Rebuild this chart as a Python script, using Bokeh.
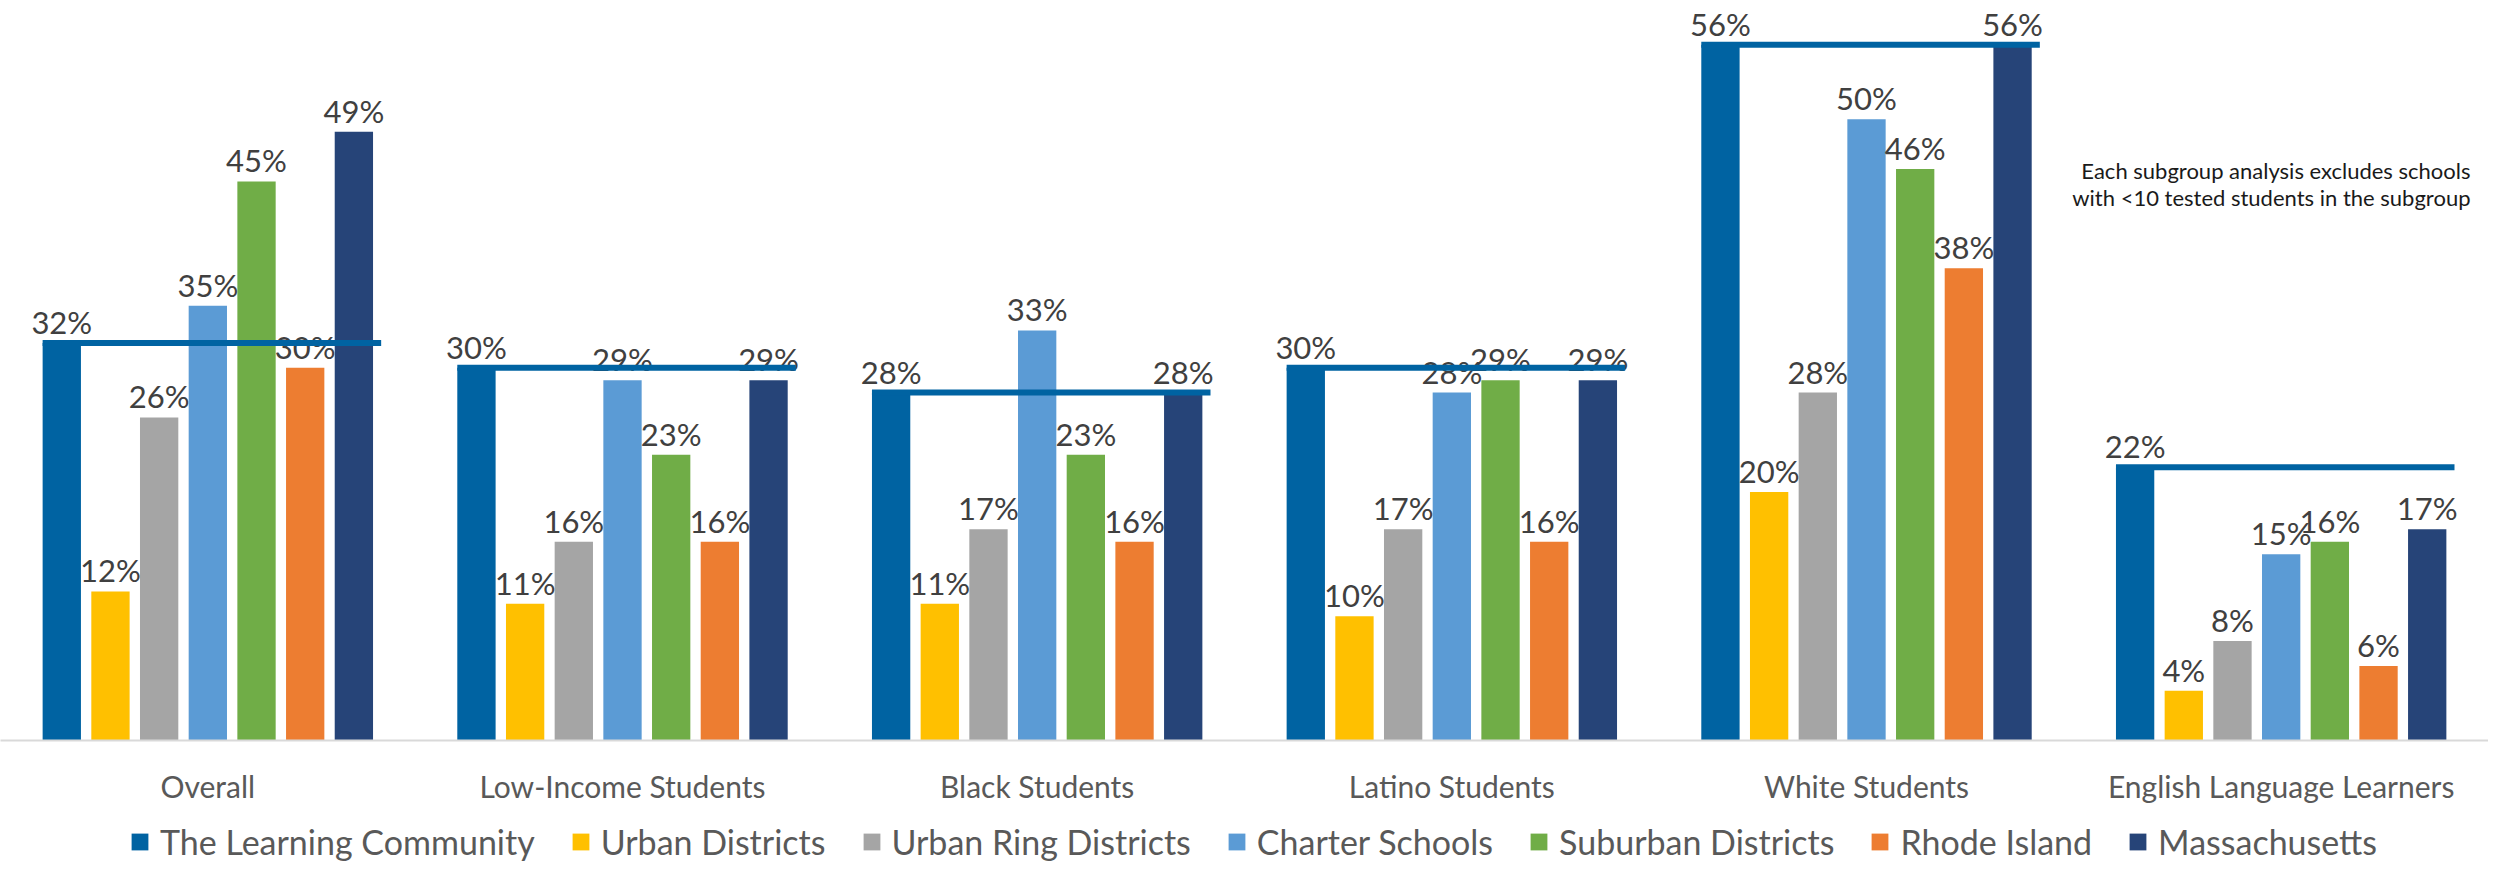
from bokeh.plotting import figure
from bokeh.layouts import column
from bokeh.models import FactorRange, Range1d, Legend, LegendItem, Label, ColumnDataSource
from bokeh.transform import dodge
from bokeh.core.properties import value
from bokeh.embed import file_html
from bokeh.resources import INLINE

groups = ["Overall", "Low-Income Students", "Black Students", "Latino Students",
          "White Students", "English Language Learners"]
series_names = ["The Learning Community", "Urban Districts", "Urban Ring Districts",
                "Charter Schools", "Suburban Districts", "Rhode Island", "Massachusetts"]
learning_community = [32, 30, 28, 30, 56, 22]
urban_districts = [12, 11, 11, 10, 20, 4]
urban_ring_districts = [26, 16, 17, 17, 28, 8]
charter_schools = [35, 29, 33, 28, 50, 15]
suburban_districts = [45, 23, 23, 29, 46, 16]
rhode_island = [30, 16, 16, 16, 38, 6]
massachusetts = [49, 29, 28, 29, 56, 17]
note_lines = ["Each subgroup analysis excludes schools",
              "with <10 tested students in the subgroup"]

series_values = [learning_community, urban_districts, urban_ring_districts,
                 charter_schools, suburban_districts, rhode_island, massachusetts]
colors = ["#0063A2", "#FFC000", "#A5A5A5", "#5B9BD5", "#70AD47", "#ED7D31", "#264478"]

FONT = "Lato"
pitch = 0.1174
bar_w = 0.0924

p = figure(width=2488, height=806, x_range=FactorRange(*groups), y_range=Range1d(0, 59.56),
           output_backend="svg", toolbar_location=None, y_axis_location=None,
           min_border_left=0, min_border_right=0, min_border_top=0, min_border_bottom=61)
p.outline_line_color = None
p.xgrid.grid_line_color = None
p.ygrid.grid_line_color = None
p.background_fill_color = "white"
p.border_fill_color = "white"

xa = p.xaxis[0]
xa.axis_line_color = "#D9D9D9"
xa.axis_line_width = 2
xa.major_tick_line_color = None
xa.minor_tick_line_color = None
xa.major_tick_out = 0
xa.major_tick_in = 0
xa.major_label_text_font = FONT
xa.major_label_text_font_size = "30px"
xa.major_label_text_color = "#595959"
xa.major_label_standoff = 27

label_sources = []
for i, (name, vals, col) in enumerate(zip(series_names, series_values, colors)):
    src = ColumnDataSource(dict(group=groups, val=vals, txt=[f"{v}%" for v in vals]))
    off = (i - 3) * pitch
    p.vbar(x=dodge("group", off, range=p.x_range), top="val", width=bar_w, bottom=0,
           source=src, fill_color=col, line_color=None)
    label_sources.append((src, off))

for src, off in label_sources:
    p.text(x=dodge("group", off, range=p.x_range), y="val", text="txt", source=src,
           text_align="center", text_baseline="alphabetic", y_offset=-21,
           text_font=value(FONT), text_font_size="31px", text_color="#404040")

line_src = ColumnDataSource(dict(group=groups, val=learning_community))
p.segment(x0=dodge("group", -3 * pitch - bar_w / 2, range=p.x_range),
          x1=dodge("group", 0.418, range=p.x_range),
          y0="val", y1="val", source=line_src, line_color=colors[0], line_width=6)

for k, t in enumerate(note_lines):
    p.add_layout(Label(x=2470, y=570.5 - 27 * k, x_units="screen", y_units="screen", text=t,
                       text_align="right", text_baseline="alphabetic", text_font=FONT,
                       text_font_size="22px", text_color="#1a1a1a"))

# legend strip (swatch renderers have zero height, so only the legend shows them)
lg = figure(width=2488, height=57, x_range=Range1d(0, 1), y_range=Range1d(0, 1),
            output_backend="svg", toolbar_location=None, x_axis_location=None,
            y_axis_location=None, min_border=0)
lg.outline_line_color = None
lg.xgrid.grid_line_color = None
lg.ygrid.grid_line_color = None
lg.background_fill_color = "white"
lg.border_fill_color = "white"
items = []
for name, col in zip(series_names, colors):
    r = lg.vbar(x=[0.5], top=[0], bottom=[0], width=0.01, fill_color=col, line_color=None)
    items.append(LegendItem(label=name, renderers=[r]))
legend = Legend(items=items, orientation="horizontal", location=(129, 1),
                glyph_width=21, glyph_height=21, label_standoff=10, spacing=35,
                label_text_font=FONT, label_text_font_size="34px", label_text_color="#595959",
                label_text_line_height=0.9,
                border_line_color=None, background_fill_alpha=0, margin=0, padding=0)
lg.add_layout(legend, "center")

open("out.html", "w").write(file_html(column(p, lg), INLINE))
